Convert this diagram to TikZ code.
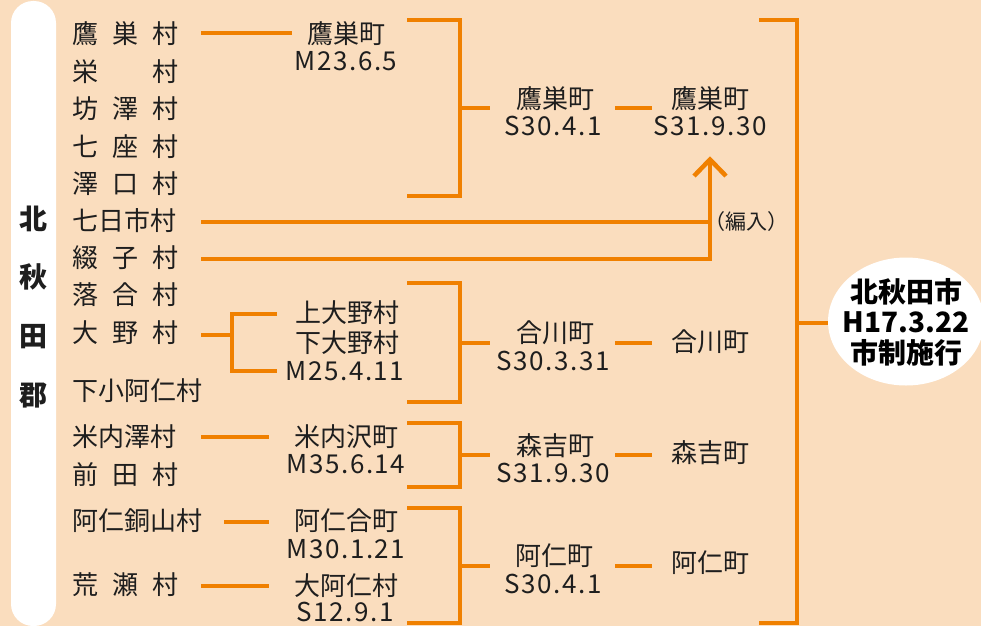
\documentclass[tikz,border=0pt]{standalone}
\usepackage{fontspec}
\setmainfont{Noto Sans CJK JP}
\newfontfamily\datefont{Noto Sans CJK JP}[LetterSpace=6]
\definecolor{bg}{RGB}{250,221,190}
\definecolor{org}{RGB}{240,128,0}
\definecolor{ink}{RGB}{30,30,30}
\newcommand{\vgap}{\hspace{14pt}}
\tikzset{
  ln/.style={draw=org, line width=4.5pt},
  txt/.style={inner sep=0pt, text height=22.9pt, text depth=3.1pt, text=ink, font=\fontsize{26}{28}\selectfont},
  vil/.style={txt, anchor=west},
  dt/.style={txt, font=\fontsize{26}{28}\selectfont\datefont},
  gun/.style={txt, font=\fontsize{28}{30}\selectfont\bfseries},
  note/.style={inner sep=0pt, text=ink, font=\fontsize{21}{22}\selectfont},
  city/.style={inner sep=0pt, text=black, align=center, font=\fontsize{28}{30.5}\selectfont\bfseries},
}
\begin{document}
\begin{tikzpicture}[x=1pt,y=-1pt]
\useasboundingbox (0,0) rectangle (981,626);
\fill[bg] (0,0) rectangle (981,626);
\begin{scope}
  \clip (0,0) rectangle (981,626);
  \fill[white, rounded corners=22pt] (11,1) rectangle (56,626);
  \fill[white] (906,321.5) ellipse [x radius=78, y radius=64];
\end{scope}

% ---------- coordinates for connectors
\coordinate (a1) at (201,33);  \coordinate (a2) at (292,33);
\coordinate (b1t) at (407,20); \coordinate (b1v) at (460,20); \coordinate (b1w) at (460,196); \coordinate (b1b) at (407,196);
\coordinate (b1m) at (460,108); \coordinate (b1e) at (490,108);
\coordinate (c1a) at (615,108); \coordinate (c1b) at (652,108);
\coordinate (h1) at (201,222); \coordinate (h2) at (710,222);
\coordinate (t1) at (201,259); \coordinate (tc) at (710,259); \coordinate (tt) at (710,160);
\coordinate (arl) at (694,176); \coordinate (art) at (710,159.5); \coordinate (arr) at (726,176);
\coordinate (o1) at (201,335); \coordinate (o2) at (232,335);
\coordinate (o3) at (277,314); \coordinate (o4) at (232,314); \coordinate (o5) at (232,371); \coordinate (o6) at (277,371);
\coordinate (b2t) at (407,283); \coordinate (b2v) at (460,283); \coordinate (b2w) at (460,402); \coordinate (b2b) at (407,402);
\coordinate (b2m) at (460,343); \coordinate (b2e) at (490,343);
\coordinate (c2a) at (615,343); \coordinate (c2b) at (652,343);
\coordinate (y1) at (201,437); \coordinate (y2) at (269,437);
\coordinate (b3t) at (407,423); \coordinate (b3v) at (460,423); \coordinate (b3w) at (460,487); \coordinate (b3b) at (407,487);
\coordinate (b3m) at (460,455); \coordinate (b3e) at (490,455);
\coordinate (c3a) at (615,455); \coordinate (c3b) at (652,455);
\coordinate (d1) at (224,522); \coordinate (d2) at (269,522);
\coordinate (r1) at (201,586); \coordinate (r2) at (269,586);
\coordinate (b4t) at (407,508); \coordinate (b4v) at (460,508); \coordinate (b4w) at (460,623); \coordinate (b4b) at (407,623);
\coordinate (b4m) at (460,566); \coordinate (b4e) at (490,566);
\coordinate (c4a) at (615,566); \coordinate (c4b) at (652,566);
\coordinate (Bt) at (759,20); \coordinate (Bv) at (797,20); \coordinate (Bw) at (797,623); \coordinate (Bb) at (759,623);
\coordinate (Bm) at (797,323); \coordinate (Be) at (828,323);

% ---------- connectors
\draw[ln] (a1) -- (a2);
\draw[ln] (b1t) -- (b1v) -- (b1w) -- (b1b);
\draw[ln] (b1m) -- (b1e);
\draw[ln] (c1a) -- (c1b);
\draw[ln] (h1) -- (h2);
\draw[ln] (t1) -- (tc) -- (tt);
\draw[ln, line join=miter] (arl) -- (art) -- (arr);
\draw[ln] (o1) -- (o2);
\draw[ln] (o3) -- (o4) -- (o5) -- (o6);
\draw[ln] (b2t) -- (b2v) -- (b2w) -- (b2b);
\draw[ln] (b2m) -- (b2e);
\draw[ln] (c2a) -- (c2b);
\draw[ln] (y1) -- (y2);
\draw[ln] (b3t) -- (b3v) -- (b3w) -- (b3b);
\draw[ln] (b3m) -- (b3e);
\draw[ln] (c3a) -- (c3b);
\draw[ln] (d1) -- (d2);
\draw[ln] (r1) -- (r2);
\draw[ln] (b4t) -- (b4v) -- (b4w) -- (b4b);
\draw[ln] (b4m) -- (b4e);
\draw[ln] (c4a) -- (c4b);
\draw[ln] (Bt) -- (Bv) -- (Bw) -- (Bb);
\draw[ln] (Bm) -- (Be);

% ---------- district label
\node[gun] (g1) at (33.5,220) {北};
\node[gun] (g2) at (33.5,278) {秋};
\node[gun] (g3) at (33.5,337) {田};
\node[gun] (g4) at (33.5,396) {郡};

% ---------- villages
\node[vil] (v1) at (72,34) {鷹\vgap 巣\vgap 村};
\node[vil] (v2) at (72,72) {栄\hspace{54pt}村};
\node[vil] (v3) at (72,109) {坊\vgap 澤\vgap 村};
\node[vil] (v4) at (72,147) {七\vgap 座\vgap 村};
\node[vil] (v5) at (72,184) {澤\vgap 口\vgap 村};
\node[vil] (v6) at (72,221) {七日市村};
\node[vil] (v7) at (72,258) {綴\vgap 子\vgap 村};
\node[vil] (v8) at (72,295) {落\vgap 合\vgap 村};
\node[vil] (v9) at (72,333) {大\vgap 野\vgap 村};
\node[vil] (v10) at (72,391) {下小阿仁村};
\node[vil] (v11) at (72,437) {米内澤村};
\node[vil] (v12) at (72,475) {前\vgap 田\vgap 村};
\node[vil] (v13) at (72,521) {阿仁銅山村};
\node[vil] (v14) at (72,585) {荒\vgap 瀬\vgap 村};

% ---------- first merger column
\node[txt] (m1) at (346,34) {鷹巣町};
\node[dt] (m1d) at (346,61) {M23.6.5};
\node[txt] (m2a) at (347,313) {上大野村};
\node[txt] (m2b) at (347,343) {下大野村};
\node[dt] (m2d) at (345,371) {M25.4.11};
\node[txt] (m3) at (346,437) {米内沢町};
\node[dt] (m3d) at (346,464) {M35.6.14};
\node[txt] (m4) at (346,521) {阿仁合町};
\node[dt] (m4d) at (346,549) {M30.1.21};
\node[txt] (m5) at (346,586) {大阿仁村};
\node[dt] (m5d) at (345,612) {S12.9.1};

% ---------- second column
\node[txt] (s1) at (555,99) {鷹巣町};
\node[dt] (s1d) at (553,126) {S30.4.1};
\node[txt] (s2) at (555,333) {合川町};
\node[dt] (s2d) at (553,361) {S30.3.31};
\node[txt] (s3) at (555,446) {森吉町};
\node[dt] (s3d) at (553,473) {S31.9.30};
\node[txt] (s4) at (554,556) {阿仁町};
\node[dt] (s4d) at (553,584) {S30.4.1};

% ---------- third column
\node[txt] (u1) at (710,99) {鷹巣町};
\node[dt] (u1d) at (710,126) {S31.9.30};
\node[txt] (u2) at (710,342) {合川町};
\node[txt] (u3) at (710,453) {森吉町};
\node[txt] (u4) at (710,563) {阿仁町};
\node[note] (hen) at (746,222) {（編入）};

% ---------- city
\node[city] (kita) at (906,322) {北秋田市\\H17.3.22\\市制施行};
\end{tikzpicture}
\end{document}
